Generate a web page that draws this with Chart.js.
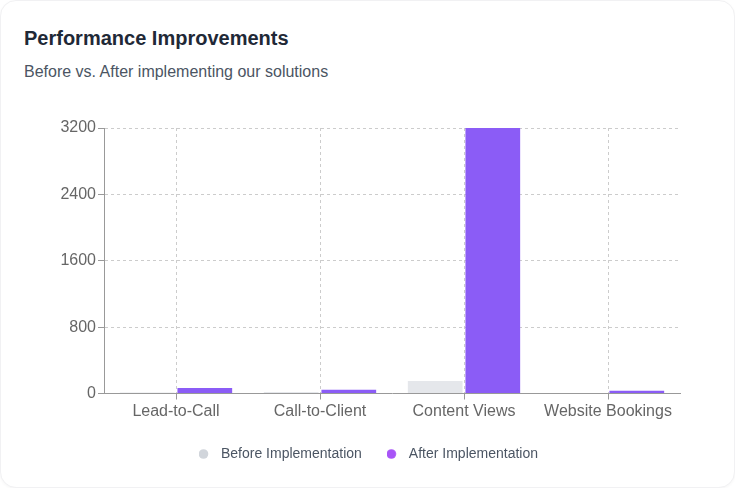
<!DOCTYPE html>
<html>
<head>
<meta charset="utf-8">
<script src="https://cdn.jsdelivr.net/npm/chart.js@4.4.1/dist/chart.umd.min.js"></script>
<style>
  html, body { margin: 0; padding: 0; background: #ffffff; }
  body { width: 735px; height: 488px; overflow: hidden; font-family: "Liberation Sans", Arial, sans-serif; }
  .card { position: absolute; left: 0; top: 0; width: 733px; height: 486px; background: #fff;
          border: 1px solid #f1f1f3; border-radius: 16px; box-shadow: 0 1px 3px rgba(0,0,0,0.04); }
  .title { position: absolute; left: 24px; top: 28px; font-size: 20px; line-height: 20px; font-weight: bold; color: #1f2937; white-space: nowrap; }
  .subtitle { position: absolute; left: 24px; top: 63.5px; font-size: 16px; line-height: 16px; color: #4b5563; white-space: nowrap; }
  .wrap { position: absolute; left: 0; top: 100px; width: 735px; height: 388px; }
</style>
</head>
<body>
<div class="card"></div>
<div class="title">Performance Improvements</div>
<div class="subtitle">Before vs. After implementing our solutions</div>
<div class="wrap"><canvas id="c" width="735" height="388"></canvas></div>
<script>
const categories = ["Lead-to-Call", "Call-to-Client", "Content Views", "Website Bookings"];
const beforeValues = [12, 18, 152, 5];
const afterValues = [66, 46, 3200, 34];
const yTicks = [0, 800, 1600, 2400, 3200];
const seriesNames = ["Before Implementation", "After Implementation"];
const barColors = ["#e5e7eb", "#8b5cf6"];
const legendColors = ["#d1d5db", "#a855f7"];

const tickFont = { family: "'Liberation Sans', Arial, sans-serif", size: 16 };

function legendDot(color) {
  const cv = document.createElement('canvas');
  cv.width = 16; cv.height = 12;
  const g = cv.getContext('2d');
  g.fillStyle = color;
  g.beginPath();
  g.arc(4.5, 6, 4.8, 0, Math.PI * 2);
  g.fill();
  return cv;
}

const chart = new Chart(document.getElementById('c'), {
  type: 'bar',
  data: {
    labels: categories,
    datasets: [
      { label: seriesNames[0], data: beforeValues, backgroundColor: barColors[0], borderWidth: 0, xAxisID: 'x', yAxisID: 'y' },
      { label: seriesNames[1], data: afterValues, backgroundColor: barColors[1], borderWidth: 0, xAxisID: 'x', yAxisID: 'y' }
    ]
  },
  options: {
    responsive: false,
    animation: false,
    devicePixelRatio: 1,
    categoryPercentage: 0.8,
    barPercentage: 0.95,
    layout: { padding: { top: 28, left: 58, right: 55, bottom: 17 } },
    plugins: {
      tooltip: { enabled: false },
      legend: {
        position: 'bottom',
        labels: {
          usePointStyle: true,
          boxWidth: 14,
          boxHeight: 7,
          padding: 26,
          color: '#4b5563',
          font: { family: "'Liberation Sans', Arial, sans-serif", size: 14 },
          generateLabels: (ch) => ch.data.datasets.map((ds, i) => ({
            text: ds.label,
            fillStyle: legendColors[i],
            strokeStyle: legendColors[i],
            lineWidth: 0,
            pointStyle: legendDot(legendColors[i]),
            fontColor: '#4b5563',
            hidden: false,
            datasetIndex: i
          }))
        }
      }
    },
    scales: {
      x: {
        offset: true,
        grid: { offset: false, color: '#cccccc', tickBorderDash: [], tickColor: '#999999', tickLength: 6, lineWidth: 1 },
        border: { display: true, color: '#999999', width: 1, dash: [3, 3] },
        ticks: { color: '#666666', font: tickFont, padding: 2, maxRotation: 0, autoSkip: false },
        afterFit: (s) => { s.height = 27.5; }
      },
      xEdge: {
        type: 'linear',
        position: 'bottom',
        min: 0,
        max: 1,
        afterBuildTicks: (s) => { s.ticks = [{ value: 1 }]; },
        grid: { color: '#cccccc', drawTicks: false, lineWidth: 1 },
        border: { display: false, dash: [3, 3] },
        ticks: { display: false },
        afterFit: (s) => { s.height = 0; }
      },
      y: {
        min: 0,
        max: 3200,
        afterBuildTicks: (s) => { s.ticks = yTicks.map(v => ({ value: v })); },
        grid: { color: '#cccccc', tickBorderDash: [], tickColor: '#999999', tickLength: 6, lineWidth: 1 },
        border: { display: true, color: '#999999', width: 1, dash: [3, 3] },
        ticks: { color: '#666666', font: tickFont, padding: 2, callback: (v) => String(v) },
        afterFit: (s) => { s.width = 46; }
      }
    }
  }
});
</script>
</body>
</html>
